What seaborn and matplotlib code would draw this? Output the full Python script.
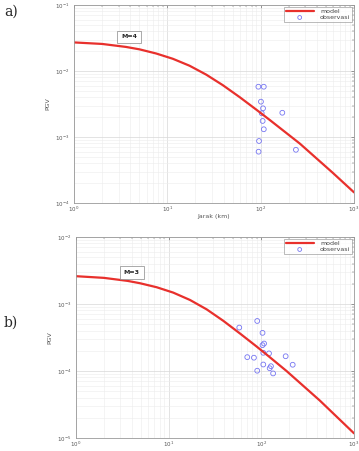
import numpy as np
import pandas as pd
import matplotlib
matplotlib.use("Agg")
import matplotlib.pyplot as plt
import seaborn as sns

# ---- Panel a (M=4) ----
model_a_R = [1, 2, 3.6, 5.04, 7.6, 11.46, 17.3, 26.1, 39.3, 59.4, 89.7, 124.6, 263, 590, 1000]
model_a_pgv = [0.0271, 0.0257, 0.02317, 0.02128, 0.01841, 0.01531, 0.01202, 0.00881, 0.00610,
               0.00403, 0.00260, 0.00182, 7.94e-4, 2.88e-4, 1.45e-4]
obs_a_R = [94.5, 108, 100.7, 106, 102.6, 170.6, 105, 108, 96, 95, 238.6]
obs_a_pgv = [5.78e-3, 5.78e-3, 3.43e-3, 2.72e-3, 2.29e-3, 2.33e-3, 1.75e-3, 1.31e-3, 8.7e-4, 5.99e-4, 6.4e-4]

# ---- Panel b (M=3) ----
model_b_R = [1, 2, 3.6, 4.9, 7.43, 11.2, 17.0, 25.7, 38.8, 58.8, 89, 118.7, 187, 427, 1000]
model_b_pgv = [2.60e-3, 2.455e-3, 2.213e-3, 2.042e-3, 1.778e-3, 1.479e-3, 1.148e-3, 8.32e-4,
               5.62e-4, 3.63e-4, 2.317e-4, 1.679e-4, 1.0e-4, 3.63e-5, 1.175e-5]
obs_b_R = [57.8, 90.3, 103, 107, 103, 105, 121, 70.5, 83.2, 183, 105, 127, 123, 218, 90.3, 134]
obs_b_pgv = [4.45e-4, 5.58e-4, 3.71e-4, 2.57e-4, 2.43e-4, 1.87e-4, 1.83e-4, 1.61e-4, 1.58e-4,
             1.66e-4, 1.25e-4, 1.18e-4, 1.10e-4, 1.24e-4, 1.01e-4, 9.2e-5]

panel_labels = ["a)", "b)"]
mag_labels = ["M=4", "M=3"]
legend_labels = ["model", "observasi"]
xlabel = "Jarak (km)"
ylabel = "PGV"

sns.set_style("white")
plt.rcParams['font.family'] = ['DejaVu Sans']

W, H = 359, 451
fig = plt.figure(figsize=(W / 100, H / 100), dpi=100)

def px_axes(l, t, r, b):
    return fig.add_axes([l / W, 1 - b / H, (r - l) / W, (b - t) / H])

ax_a = px_axes(74, 5, 354, 203)
ax_b = px_axes(76, 237, 354, 438)

red = "#e8302c"
blue = "#7676f2"

def draw(ax, mR, mP, oR, oP, ylim, mag, magpos, show_xlabel):
    dfm = pd.DataFrame({"R": mR, "PGV": mP})
    dfo = pd.DataFrame({"R": oR, "PGV": oP})
    ax.set_xscale("log")
    ax.set_yscale("log")
    sns.lineplot(data=dfm, x="R", y="PGV", ax=ax, color=red, lw=1.6, label=legend_labels[0])
    sns.scatterplot(data=dfo, x="R", y="PGV", ax=ax, marker="o", s=12,
                    facecolor="none", edgecolor=blue, linewidth=0.6, label=legend_labels[1])
    ax.set_xlim(1, 1000)
    ax.set_ylim(*ylim)
    ax.grid(True, which="major", color="#d8d8d8", lw=0.5)
    ax.grid(True, which="minor", color="#ececec", lw=0.4)
    ax.tick_params(which="both", direction="in", top=True, right=True,
                   labelsize=4, colors="#555555", pad=3.5)
    ax.tick_params(axis="x", which="both", pad=1.5)
    ax.tick_params(which="major", length=2.5, width=0.4)
    ax.tick_params(which="minor", length=1.2, width=0.3)
    for s in ax.spines.values():
        s.set_color("#999999")
        s.set_linewidth(0.6)
    ax.set_ylabel(ylabel, fontsize=4.5, color="#555555", labelpad=3)
    if show_xlabel:
        ax.set_xlabel(xlabel, fontsize=4.5, color="#555555", labelpad=0)
    else:
        ax.set_xlabel("")
    ax.text(magpos[0], magpos[1], mag, fontsize=4.5, fontweight="bold", ha="center", va="center",
            bbox=dict(boxstyle="square,pad=0.6", fc="white", ec="#888888", lw=0.5))
    leg = ax.legend(loc="upper right", fontsize=4.5, frameon=True, fancybox=False,
                    borderpad=0.3, handlelength=4.5, handletextpad=1.0, labelspacing=0.1,
                    borderaxespad=0.3, markerscale=0.8)
    leg.get_frame().set_edgecolor("#888888")
    leg.get_frame().set_linewidth(0.5)
    for t in leg.get_texts():
        t.set_color("#444444")

draw(ax_a, model_a_R, model_a_pgv, obs_a_R, obs_a_pgv, (1e-4, 1e-1), mag_labels[0], (3.9, 0.033), True)
draw(ax_b, model_b_R, model_b_pgv, obs_b_R, obs_b_pgv, (1e-5, 1e-2), mag_labels[1], (4.0, 2.97e-3), False)

fig.text(4 / W, 1 - 12 / H, panel_labels[0], fontsize=10, family="DejaVu Serif", va="center")
fig.text(4 / W, 1 - 323 / H, panel_labels[1], fontsize=10, family="DejaVu Serif", va="center")

fig.savefig("out.png", dpi=100)
